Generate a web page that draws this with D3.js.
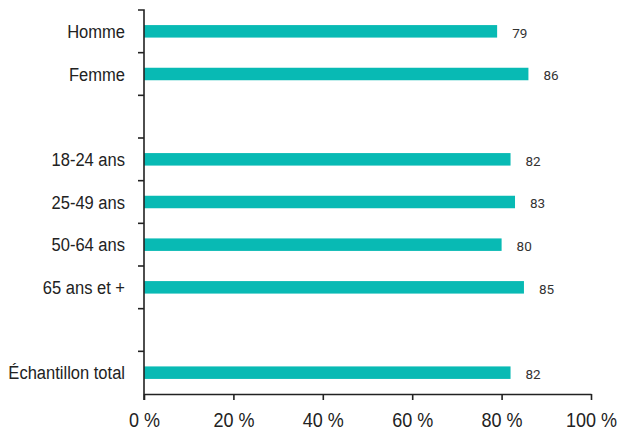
<!DOCTYPE html>
<html>
<head>
<meta charset="utf-8">
<script src="https://cdn.jsdelivr.net/npm/d3@7"></script>
<style>
  html, body { margin: 0; padding: 0; background: #fff; }
  svg { display: block; }
</style>
</head>
<body>
<div id="chart"></div>
<script>
const categories = ["Homme", "Femme", "gap1", "18-24 ans", "25-49 ans", "50-64 ans", "65 ans et +", "gap2", "Échantillon total"];
const values = [79, 86, null, 82, 83, 80, 85, null, 82];
const xTicks = [0, 20, 40, 60, 80, 100];

const W = 619, H = 430;
const margin = { left: 144, top: 10 };
const narrowFont = "'Liberation Sans', Arial, sans-serif";

const svg = d3.select("#chart").append("svg").attr("width", W).attr("height", H);

const x = d3.scaleLinear().domain([0, 100]).range([margin.left, 591]);
const y = d3.scaleBand().domain(categories).range([margin.top, 394]).paddingInner(0).paddingOuter(0);

const barH = 12.5;
const data = categories.map((c, i) => ({ c, v: values[i] })).filter(d => d.v !== null);

svg.append("g").selectAll("rect").data(data).join("rect")
  .attr("x", x(0))
  .attr("y", d => y(d.c) + y.bandwidth() / 2 - barH / 2)
  .attr("width", d => x(d.v) - x(0))
  .attr("height", barH)
  .attr("fill", "#08bab4");

svg.append("g").selectAll("text").data(data).join("text")
  .attr("x", d => x(d.v) + 15)
  .attr("y", d => y(d.c) + y.bandwidth() / 2 + 1.5)
  .attr("dy", "0.35em")
  .attr("font-family", "Roboto, 'Liberation Sans', sans-serif")
  .attr("font-size", 13.5)
  .attr("fill", "#333")
  .text(d => d.v);

// Y axis
const yAxisG = svg.append("g").attr("transform", `translate(${x(0)},0)`);
yAxisG.append("path")
  .attr("d", `M${-6},${y.range()[0]}H0V${y.range()[1] + 6}`)
  .attr("fill", "none").attr("stroke", "#222").attr("stroke-width", 1.6);
const bounds = categories.map(c => y(c)).concat([y.range()[1]]);
yAxisG.selectAll("line.tk").data(bounds.slice(1, -1)).join("line")
  .attr("class", "tk")
  .attr("x1", -6).attr("x2", 0)
  .attr("y1", d => d).attr("y2", d => d)
  .attr("stroke", "#222").attr("stroke-width", 1.6);

yAxisG.selectAll("text").data(categories.filter(c => !c.startsWith("gap"))).join("text")
  .attr("transform", c => `translate(-19,${y(c) + y.bandwidth() / 2}) scale(0.87,1)`)
  .attr("dy", "0.35em")
  .attr("text-anchor", "end")
  .attr("font-family", narrowFont)
  .attr("font-size", 19)
  .attr("fill", "#222")
  .text(c => c);

// X axis
const xAxis = d3.axisBottom(x).tickValues(xTicks).tickSize(6).tickSizeOuter(0).tickFormat(d => d + " %");
const xAxisG = svg.append("g").attr("transform", `translate(0,394)`).call(xAxis);
xAxisG.select(".domain").attr("stroke", "#222").attr("stroke-width", 1.6);
xAxisG.selectAll(".tick line").attr("stroke", "#222").attr("stroke-width", 1.6);
xAxisG.selectAll(".tick text")
  .attr("y", 0).attr("dy", 0)
  .attr("transform", `translate(0,33) scale(0.9,1)`)
  .attr("font-family", narrowFont)
  .attr("font-size", 20)
  .attr("fill", "#222");
</script>
</body>
</html>
